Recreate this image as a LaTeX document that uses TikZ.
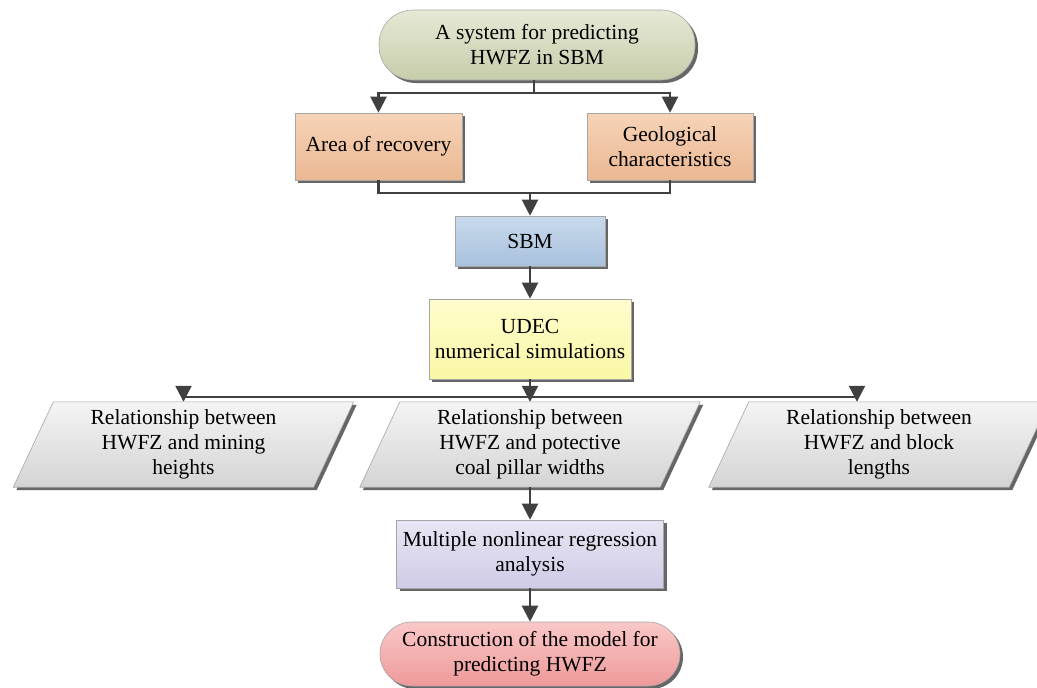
\documentclass[tikz,border=0pt]{standalone}
\usepackage{fontspec}
\setmainfont{Liberation Serif}
\usetikzlibrary{arrows.meta,shadows,calc,backgrounds}
\definecolor{topA}{HTML}{E6E9D6}
\definecolor{topB}{HTML}{C6CDAA}
\definecolor{peachA}{HTML}{F6D3B8}
\definecolor{peachB}{HTML}{EBB892}
\definecolor{blueA}{HTML}{C8DAEC}
\definecolor{blueB}{HTML}{A9C1DD}
\definecolor{yelA}{HTML}{FEFDCC}
\definecolor{yelB}{HTML}{FAF7A6}
\definecolor{paraA}{HTML}{F4F4F4}
\definecolor{paraB}{HTML}{D4D4D4}
\definecolor{lavA}{HTML}{E8E5F4}
\definecolor{lavB}{HTML}{D0CBE6}
\definecolor{pinkA}{HTML}{FAC8C8}
\definecolor{pinkB}{HTML}{EE9999}
\definecolor{linec}{HTML}{404040}
\begin{document}
\begin{tikzpicture}[x=1pt,y=-1pt,
  txt/.style={align=center, font=\fontsize{21.5}{25}\selectfont},
  base/.style={txt, draw=black!35, line width=0.6pt, inner sep=2pt,
    drop shadow={shadow xshift=3pt, shadow yshift=-3pt, fill=black!60, opacity=1}},
  ptext/.style={txt, minimum width=300pt, minimum height=85pt, inner sep=0pt},
  para/.style={draw=black!35, line width=0.6pt, top color=paraA, bottom color=paraB},
  pshadow/.style={fill=black!60},
  conn/.style={draw=linec, line width=2.2pt},
  arrow/.style={conn, -{Triangle[length=16pt,width=16pt]}}
]
\useasboundingbox (0,0) rectangle (1037,688);

% nodes
\node[base, rounded corners=34pt, minimum width=316pt, minimum height=70pt,
  top color=topA, bottom color=topB] (top) at (537,45) {A system for predicting\\HWFZ in SBM};
\node[base, minimum width=167pt, minimum height=67pt,
  top color=peachA, bottom color=peachB] (area) at (378.5,146.5) {Area of recovery};
\node[base, minimum width=166pt, minimum height=67pt,
  top color=peachA, bottom color=peachB] (geo) at (670,146.5) {Geological\\characteristics};
\node[base, minimum width=150pt, minimum height=50pt,
  top color=blueA, bottom color=blueB] (sbm) at (530,241) {SBM};
\node[base, minimum width=202pt, minimum height=80pt,
  top color=yelA, bottom color=yelB] (udec) at (530,339) {UDEC\\numerical simulations};
\node[ptext] (p1) at (183.5,444.5) {Relationship between\\HWFZ and mining\\heights};
\node[ptext] (p2) at (530,444.5) {Relationship between\\HWFZ and potective\\coal pillar widths};
\node[ptext] (p3) at (879,444.5) {Relationship between\\HWFZ and block\\lengths};
\node[base, minimum width=267pt, minimum height=68pt,
  top color=lavA, bottom color=lavB] (multi) at (530,554) {Multiple nonlinear regression\\analysis};
\node[base, rounded corners=32pt, minimum width=300pt, minimum height=64pt,
  top color=pinkA, bottom color=pinkB] (bot) at (530,654) {Construction of the model for\\predicting HWFZ};

% parallelogram shapes
\begin{pgfonlayer}{background}
\foreach \n in {p1,p2,p3}{
  \path[pshadow] ($(\n.south west)+(-17,3)$) -- ($(\n.south east)+(-17,3)$)
     -- ($(\n.north east)+(23,3)$) -- ($(\n.north west)+(23,3)$) -- cycle;
  \path[para] ($(\n.south west)+(-20,0)$) -- ($(\n.south east)+(-20,0)$)
     -- ($(\n.north east)+(20,0)$) -- ($(\n.north west)+(20,0)$) -- cycle;
}
\end{pgfonlayer}

% connectors
\coordinate (tj) at (534,93);
\draw[conn] (top.south -| tj) -- (tj);
\draw[arrow] (tj) -| (area.north);
\draw[arrow] (tj) -| (geo.north);

\coordinate (mj) at (530,193);
\draw[conn] (area.south) |- (mj);
\draw[conn] (geo.south) |- (mj);
\draw[arrow] (mj) -- (sbm.north);

\draw[arrow] (sbm.south) -- (udec.north);

\coordinate (uj) at (530,397);
\draw[conn] (udec.south) -- (uj);
\draw[arrow] (uj) -| (p1.north);
\draw[arrow] (uj) -- (p2.north);
\draw[arrow] (uj) -| ($(p3.north)+(-22,0)$);

\draw[arrow] (p2.south) -- (multi.north);
\draw[arrow] (multi.south) -- (bot.north);
\end{tikzpicture}
\end{document}
